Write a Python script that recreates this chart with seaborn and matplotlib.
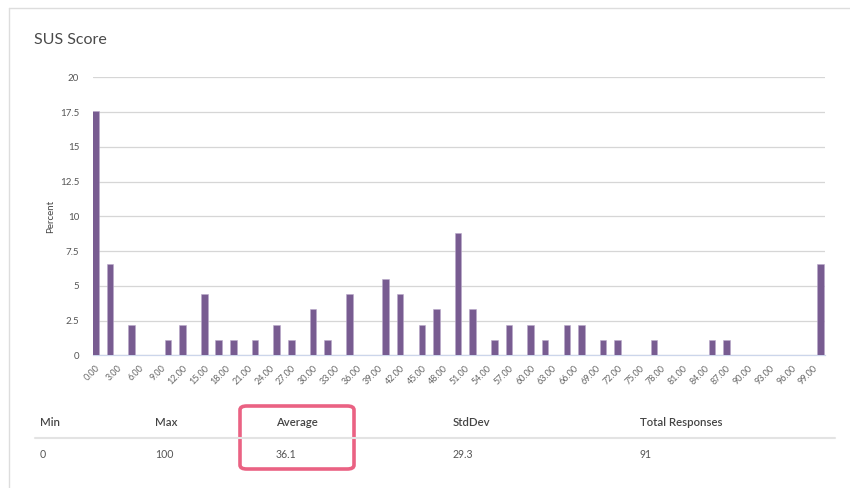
import numpy as np
import pandas as pd
import matplotlib
matplotlib.use("Agg")
import matplotlib.pyplot as plt
from matplotlib.patches import FancyBboxPatch
import seaborn as sns

# Data
score_bins = [0, 2, 5, 10, 12, 15, 17, 19, 22, 25, 27, 30, 32, 35, 40, 42,
              45, 47, 50, 52, 55, 57, 60, 62, 65, 67, 70, 72, 77, 85, 87, 100]
percent = [17.58, 6.59, 2.20, 1.10, 2.20, 4.40, 1.10, 1.10, 1.10, 2.20, 1.10,
           3.30, 1.10, 4.40, 5.49, 4.40, 2.20, 3.30, 8.79, 3.30, 1.10, 2.20,
           2.20, 1.10, 2.20, 2.20, 1.10, 1.10, 1.10, 1.10, 1.10, 6.59]
y_ticks = [0, 2.5, 5, 7.5, 10, 12.5, 15, 17.5, 20]
y_tick_labels = ["0", "2.5", "5", "7.5", "10", "12.5", "15", "17.5", "20"]
x_ticks = list(range(0, 100, 3))

stat_names = ["Min", "Max", "Average", "StdDev", "Total Responses"]
stat_values = ["0", "100", "36.1", "29.3", "91"]

BAR_COLOR = "#785c91"
GRID_COLOR = "#d6d6d6"

sns.set_style("white")
plt.rcParams['font.family'] = ['Lato', 'DejaVu Sans']

df = pd.DataFrame({'score': score_bins, 'percent': percent})

fig = plt.figure(figsize=(8.5, 4.88), dpi=100)
W, H = 850, 488

def fx(px):
    return px / W

def fy(py):
    return 1 - py / H

ax = fig.add_axes([fx(93), fy(355.3), fx(825) - fx(93), fy(77.3) - fy(355.3)])

sns.barplot(data=df, x='score', y='percent', native_scale=True, width=0.46,
            color=BAR_COLOR, saturation=1, errorbar=None,
            edgecolor="#b9a8c9", linewidth=0.4, ax=ax, zorder=3)

ax.set_xlim(-0.35, 100.6)
ax.set_ylim(0, 20)
ax.set_yticks(y_ticks)
ax.set_yticklabels(y_tick_labels)
ax.set_xticks(x_ticks)
ax.set_xticklabels([f"{t:.2f}" for t in x_ticks], rotation=45, ha='right',
                   rotation_mode='anchor')
ax.yaxis.grid(True, color=GRID_COLOR, linewidth=0.9, zorder=0)
ax.xaxis.grid(False)
for side in ['top', 'right', 'left']:
    ax.spines[side].set_visible(False)
ax.spines['bottom'].set_color("#ccd6eb")
ax.spines['bottom'].set_linewidth(0.9)
ax.tick_params(axis='x', length=5, width=0.8, color="#ccd6eb",
               labelsize=6.5, labelcolor="#666666", pad=1)
ax.tick_params(axis='y', length=0, labelsize=7, labelcolor="#555555", pad=10)
ax.set_xlabel("")
ax.set_ylabel("Percent", fontsize=7, color="#444444")
ax.yaxis.set_label_coords((55 - 93) / 732, 0.5)

# card border and title
fig.add_artist(plt.Line2D([fx(9), fx(9)], [fy(7.5), 0], color="#dddddd", lw=1))
fig.add_artist(plt.Line2D([fx(9), 1], [fy(7.5), fy(7.5)], color="#dddddd", lw=1))
fig.text(fx(34), fy(40), "SUS Score", fontsize=11.5, color="#4a4a4a", va='center')

# summary table under the chart
col_x = [40, 155, 276, 453, 640]
for name, val, cx in zip(stat_names, stat_values, col_x):
    fig.text(fx(cx), fy(422), name, fontsize=8.2, color="#444444",
             fontweight='semibold', va='center')
    fig.text(fx(cx), fy(455), val, fontsize=7.6, color="#555555", va='center')
fig.add_artist(plt.Line2D([fx(35), fx(835)], [fy(438), fy(438)],
                          color="#e3e3e3", lw=1.5))

box = FancyBboxPatch((fx(240), fy(469)), fx(354) - fx(240), fy(406) - fy(469),
                     boxstyle="round,pad=0,rounding_size=0.008",
                     transform=fig.transFigure, fill=False,
                     edgecolor="#ea6283", linewidth=2.6)
fig.add_artist(box)

fig.savefig("out.png", dpi=100)
